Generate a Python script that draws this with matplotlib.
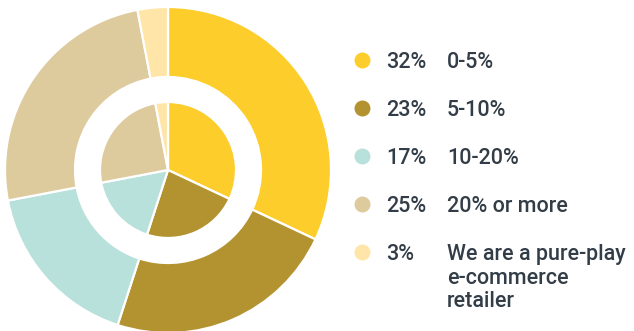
import matplotlib.pyplot as plt

# data
labels = ["0-5%", "5-10%", "10-20%", "20% or more",
          "We are a pure-play\ne-commerce\nretailer"]
shares = [32, 23, 17, 25, 3]
pct_labels = ["32%", "23%", "17%", "25%", "3%"]
colors = ["#FDCD2B", "#B39330", "#B8E1DC", "#DDCB9E", "#FFE6A8"]
text_color = "#333D47"

W, H = 634, 331
fig = plt.figure(figsize=(W / 100, H / 100), dpi=100)

# -------------------
# nested donut
# -------------------
cx, cy, r = 168, 170, 163
ax = fig.add_axes([(cx - r) / W, (H - cy - r) / H, 2 * r / W, 2 * r / H])
wedge = dict(edgecolor="white", linewidth=1.6)
ax.pie(shares, colors=colors, startangle=90, counterclock=False,
       radius=1.0, wedgeprops=dict(width=1.0 - 93 / 163, **wedge))
ax.pie(shares, colors=colors, startangle=90, counterclock=False,
       radius=68 / 163, wedgeprops=wedge)
ax.set_xlim(-1, 1)
ax.set_ylim(-1, 1)
ax.set_aspect("equal")
ax.axis("off")

# -------------------
# legend
# -------------------
lg = fig.add_axes([0, 0, 1, 1])
lg.set_xlim(0, W)
lg.set_ylim(H, 0)
lg.axis("off")
font = dict(family=["Roboto", "DejaVu Sans"], fontsize=15.5,
            fontweight="medium", color=text_color)
line_h = 23.5  # px between wrapped lines
for i, (pct, lab, c) in enumerate(zip(pct_labels, labels, colors)):
    y = 60 + 48 * i
    lg.plot(362, y, "o", ms=11.5, color=c, mec="none")
    lg.text(386, y + 8, pct, va="baseline", ha="left", **font)
    # baseline alignment uses the last line, so shift down for wrapped labels
    extra = lab.count("\n") * line_h
    lg.text(447, y + 8 + extra, lab, va="baseline", ha="left",
            linespacing=1.15, **font)

fig.savefig("out.png", dpi=100)
